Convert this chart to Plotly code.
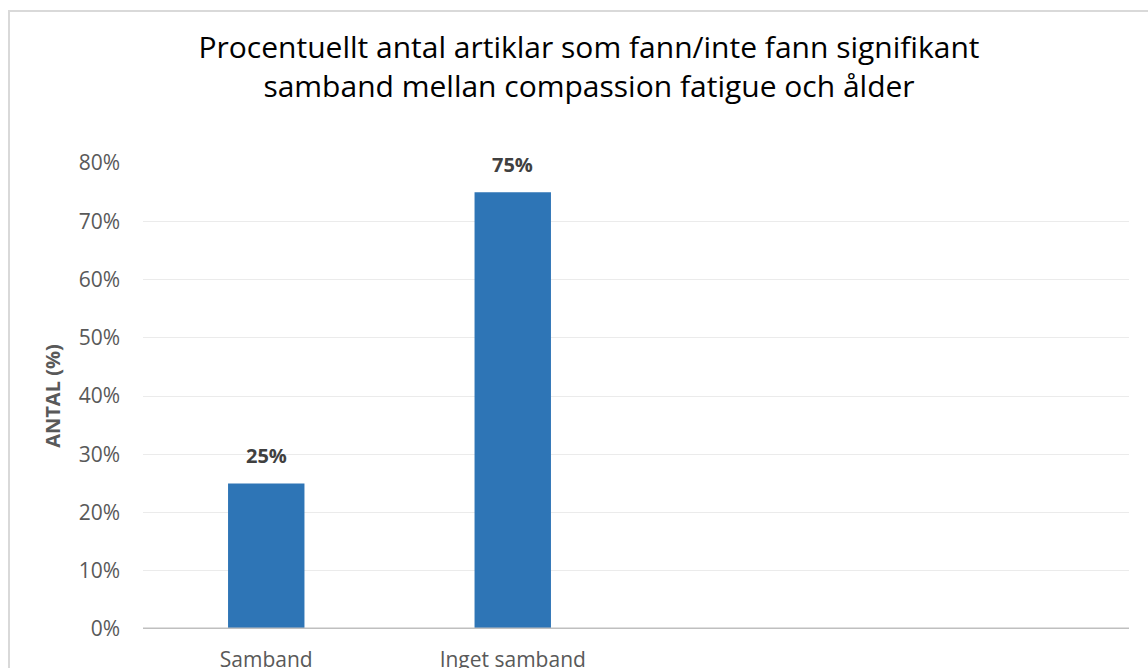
import plotly.graph_objects as go

categories = ["Samband", "Inget samband"]
values = [25, 75]
labels = ["25%", "75%"]
tick_vals = [0, 10, 20, 30, 40, 50, 60, 70, 80]
tick_text = ["0%", "10%", "20%", "30%", "40%", "50%", "60%", "70%", "80%"]

FONT = "Open Sans"

fig = go.Figure()
fig.add_trace(go.Bar(
    x=categories, y=values,
    marker=dict(color="#2E75B6", line=dict(width=0)),
    hoverinfo="skip",
))

for c, v, t in zip(categories, values, labels):
    fig.add_annotation(x=c, y=v, text="<b>%s</b>" % t, showarrow=False,
                       yanchor="bottom", yshift=12,
                       font=dict(family=FONT, size=20, color="#404040"))

fig.update_layout(
    width=1148, height=668,
    margin=dict(l=143, r=19, t=163, b=39, autoexpand=False),
    paper_bgcolor="white", plot_bgcolor="white",
    bargap=0.69,
    showlegend=False,
    title=dict(
        text="Procentuellt antal artiklar som fann/inte fann signifikant<br>samband mellan compassion fatigue och ålder",
        x=(589 - 143) / 986, xref="paper", xanchor="center",
        y=1 - 58 / 668, yanchor="middle",
        font=dict(family=FONT, size=30, color="#000000"),
    ),
    xaxis=dict(
        type="category", range=[-0.5, 3.5], automargin=False,
        showgrid=False, showline=False, ticks="",
        tickfont=dict(family=FONT, size=21, color="#595959"),
        ticklabelstandoff=16,
        zeroline=False, fixedrange=True,
    ),
    yaxis=dict(
        range=[0, 80], tickvals=tick_vals, ticktext=tick_text, automargin=False,
        showgrid=True, gridcolor="#EBEBEB", gridwidth=1,
        zeroline=False, showline=False, ticks="",
        tickfont=dict(family=FONT, size=21, color="#595959"),
        ticklabelstandoff=22,
        title=dict(text="<b>ANTAL (%)</b>", standoff=12,
                   font=dict(family=FONT, size=20, color="#595959")),
        fixedrange=True,
    ),
)

# baseline axis line
fig.add_shape(type="line", xref="paper", yref="y", x0=0, x1=1, y0=0, y1=0,
              line=dict(color="#BFBFBF", width=3), layer="above")
# chart frame border
fig.add_shape(type="rect", xref="paper", yref="paper",
              x0=(9 - 143) / 986, x1=1.2, y0=-0.3, y1=1 + (163 - 11) / 466,
              line=dict(color="#D9D9D9", width=2), layer="below")

fig.write_html("out.html")
